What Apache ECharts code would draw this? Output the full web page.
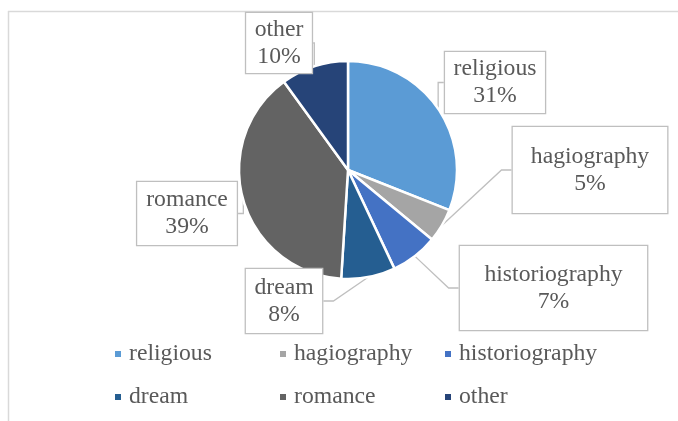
<!DOCTYPE html>
<html>
<head>
<meta charset="utf-8">
<style>
  html, body { margin: 0; padding: 0; background: #ffffff; }
  #chart { width: 678px; height: 421px; }
</style>
<script src="https://cdn.jsdelivr.net/npm/echarts@6/dist/echarts.min.js"></script>
</head>
<body>
<div id="chart"></div>
<script>
// Genre shares (percent of the corpus)
const categories = ['religious', 'hagiography', 'historiography', 'dream', 'romance', 'other'];
const shares = [31, 5, 7, 8, 39, 10];

// Slice colours, in category order
const sliceColors = ['#5B9BD5', '#A5A5A5', '#4472C4', '#255E91', '#636363', '#264478'];

// Callout box centres and inner padding [top, horizontal, bottom], in category order
const calloutCenters = [[495, 82.5], [590, 170], [553.5, 288], [284, 301], [187, 213.5], [279, 43]];
const calloutPadding = [[5.5, 8.5, 1.5], [18, 18, 14], [17, 24.5, 13], [7, 8.5, 3], [6.5, 9, 2.5], [5, 8.5, 1]];

const serif = "'Liberation Serif', 'Times New Roman', serif";
const textGrey = '#595959';

const pieData = categories.map((name, i) => ({
  name: name,
  value: shares[i],
  itemStyle: { color: sliceColors[i] },
  label: {
    padding: [calloutPadding[i][0], calloutPadding[i][1], calloutPadding[i][2], calloutPadding[i][1]]
  }
}));

const chart = echarts.init(document.getElementById('chart'), null, { renderer: 'canvas' });

chart.setOption({
  backgroundColor: '#ffffff',
  animation: false,
  graphic: [
    { type: 'line', shape: { x1: 8, y1: 11.5, x2: 678, y2: 11.5 }, style: { stroke: '#D9D9D9', lineWidth: 1.5 }, silent: true },
    { type: 'line', shape: { x1: 8.5, y1: 11, x2: 8.5, y2: 421 }, style: { stroke: '#D9D9D9', lineWidth: 1.5 }, silent: true }
  ],
  legend: {
    left: 113,
    top: 336,
    width: 500,
    padding: 0,
    itemWidth: 8,
    itemHeight: 8,
    itemGap: 7,
    icon: 'rect',
    selectedMode: false,
    data: categories,
    textStyle: {
      fontFamily: serif,
      fontSize: 23.7,
      color: textGrey,
      lineHeight: 36,
      width: 142,
      padding: [0, 0, 0, 2]
    }
  },
  series: [{
    type: 'pie',
    center: [348, 170],
    radius: 109,
    startAngle: 90,
    clockwise: true,
    avoidLabelOverlap: false,
    itemStyle: { borderColor: '#ffffff', borderWidth: 2.5 },
    label: {
      show: true,
      position: 'outside',
      formatter: '{b}\n{d}%',
      fontFamily: serif,
      fontSize: 23.7,
      lineHeight: 27,
      color: textGrey,
      align: 'center',
      backgroundColor: '#ffffff',
      borderColor: '#BFBFBF',
      borderWidth: 1.3
    },
    labelLine: {
      show: true,
      length: 10,
      length2: 10,
      lineStyle: { color: '#BFBFBF', width: 1.3 }
    },
    labelLayout: function (params) {
      const c = calloutCenters[params.dataIndex];
      return { x: c[0], y: c[1], align: 'center', verticalAlign: 'middle' };
    },
    emphasis: { disabled: true },
    data: pieData
  }]
});
</script>
</body>
</html>
